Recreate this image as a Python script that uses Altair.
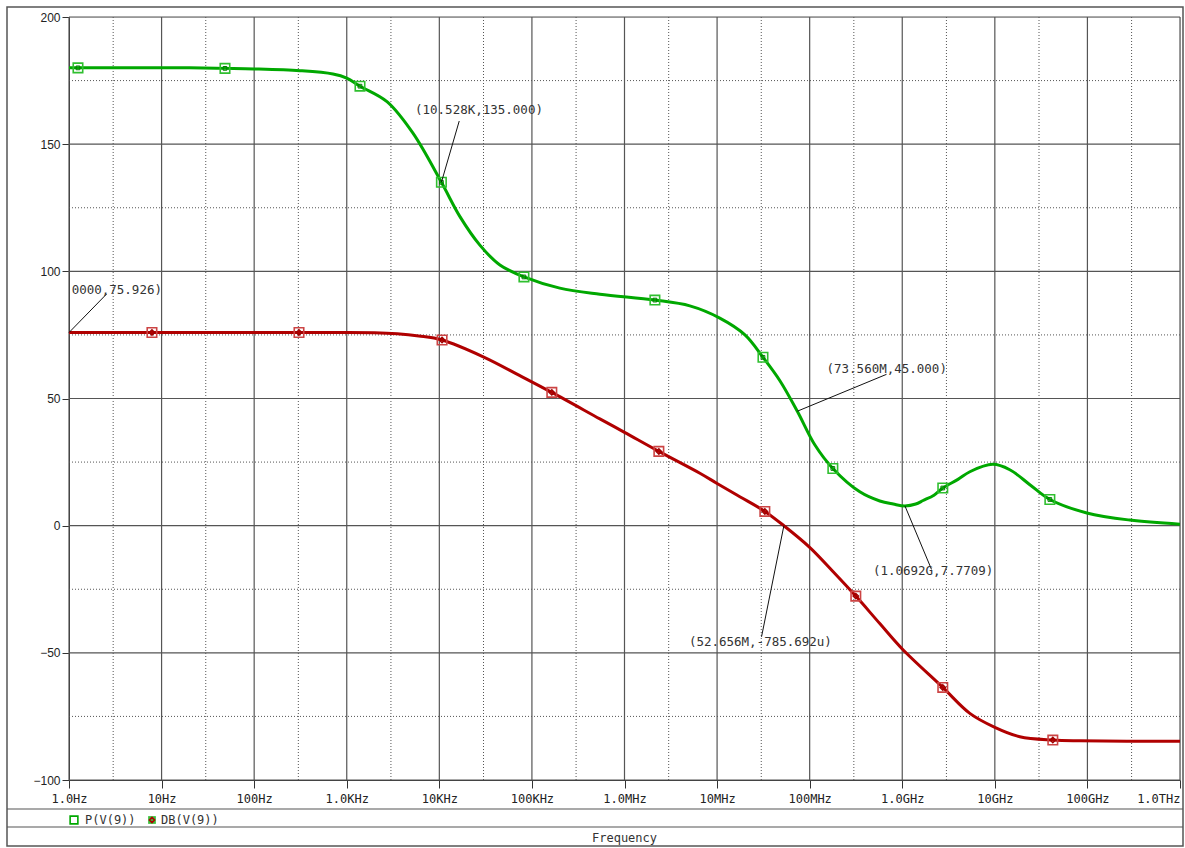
import altair as alt
import pandas as pd

# ---- phase of V(9), degrees ----
P_FREQ = [1, 1.25, 20, 48.4, 100, 312, 710, 1000, 1390, 2720, 5190, 10528,
          16700, 27400, 45100, 82000, 2.0e5, 5.42e5, 2.13e6, 5.08e6, 1.07e7,
          2.0e7, 3.13e7, 4.77e7, 7.356e7, 1.14e8, 1.78e8, 3.48e8, 5.72e8,
          8.0e8, 1.0692e9, 1.4e9, 1.68e9, 2.2e9, 2.74e9, 4.0e9, 5.37e9, 9.5e9,
          1.45e10, 2.39e10, 3.93e10, 9.86e10, 2.87e11, 1e12]
P_VAL = [180.0, 180.0, 180.0, 179.8, 179.6, 178.9, 177.6, 176.0, 172.8, 166.7,
         154.3, 135.0, 121.5, 110.3, 102.5, 97.8, 93.4, 91.0, 88.7, 86.4, 81.6,
         75.0, 66.2, 57.0, 45.0, 31.7, 22.5, 13.3, 9.7, 8.5, 7.7709, 8.5, 9.9,
         12.0, 14.8, 18.2, 21.2, 24.1, 22.0, 16.1, 10.3, 5.0, 2.2, 0.6]
P_MARK_IDX = [1, 3, 8, 11, 15, 18, 22, 26, 34, 40]

# ---- magnitude of V(9), dB ----
DB_FREQ = [1, 7.87, 305, 2000, 3500, 6000, 10700, 29800, 74100, 1.64e5,
           5.42e5, 1e6, 2.35e6, 6.52e6, 1e7, 1.76e7, 3.28e7, 5.2656e7, 1e8,
           1.87e8, 3.15e8, 5.72e8, 1e9, 2.74e9, 5.37e9, 1e10, 1.86e10, 4.23e10,
           8.28e10, 1e12]
DB_VAL = [75.926, 75.926, 75.926, 75.9, 75.5, 74.6, 73.0, 66.4, 59.0, 52.4,
          42.0, 36.7, 29.2, 20.6, 16.6, 11.4, 5.6, -0.000785692, -8.5, -18.8,
          -27.7, -38.5, -48.5, -63.6, -73.8, -79.3, -83.0, -84.3, -84.6, -84.8]
DB_MARK_IDX = [1, 2, 6, 9, 12, 16, 20, 23, 27]

# ---- axes ----
X_DECADES = [10.0 ** k for k in range(13)]
X_TICK_LABELS = ["1.0Hz", "10Hz", "100Hz", "1.0KHz", "10KHz", "100KHz",
                 "1.0MHz", "10MHz", "100MHz", "1.0GHz", "10GHz", "100GHz",
                 "1.0THz"]
X_MINOR = [3.0 * 10.0 ** k for k in range(12)]
Y_MAJOR = [-100, -50, 0, 50, 100, 150, 200]
Y_MINOR = [-75, -25, 25, 75, 125, 175]

# ---- cursor readouts: (x, y) on the trace, label anchor, leader end ----
CUR_TEXT = ["(10.528K,135.000)", "(1.0000,75.926)", "(73.560M,45.000)",
            "(1.0692G,7.7709)", "(52.656M,-785.692u)"]
CUR_X = [10528, 1.0, 7.356e7, 1.0692e9, 5.2656e7]
CUR_Y = [135.0, 75.926, 45.0, 7.7709, -0.000785692]
LBL_X = [26800, 10.1, 1.52e8, 4.82e8, 4.96e6]
LBL_Y = [163.4, 92.6, 61.6, -17.7, -45.8]
END_X = [16400, 2.55, 6.76e8, 2.07e9, 3.02e7]
END_Y = [159.1, 91.1, 59.5, -17.2, -43.7]
LBL_ALIGN = ["center", "right", "left", "left", "left"]

GREEN = "#00a800"
RED = "#b00000"
MONO = "DejaVu Sans Mono"

label_expr = ("[" + ",".join(f"'{s}'" for s in X_TICK_LABELS) +
              "][round(log(datum.value)/LN10)]")

x_scale = alt.Scale(type="log", domain=[1, 1e12], nice=False)
y_scale = alt.Scale(domain=[-100, 200], nice=False, zero=False)
x_axis = alt.Axis(values=X_DECADES, labelExpr=label_expr, title=None,
                  grid=False, tickSize=8, labelPadding=5, labelFont=MONO,
                  labelFontSize=12, labelColor="#222", tickColor="#333",
                  domainColor="#333",
                  labelAlign={"condition": {"test": "datum.value >= 1e12",
                                            "value": "right"},
                              "value": "center"})
y_axis = alt.Axis(values=Y_MAJOR, title=None, grid=False, tickSize=7,
                  labelPadding=2, labelFont="Liberation Sans",
                  labelFontSize=12, labelColor="#222", tickColor="#333",
                  domainColor="#333")


def X(field):
    return alt.X(f"{field}:Q", scale=x_scale, axis=x_axis)


def Y(field):
    return alt.Y(f"{field}:Q", scale=y_scale, axis=y_axis)


p_df = pd.DataFrame({"f": P_FREQ, "v": P_VAL})
db_df = pd.DataFrame({"f": DB_FREQ, "v": DB_VAL})
p_marks = p_df.iloc[P_MARK_IDX]
db_marks = db_df.iloc[DB_MARK_IDX]
cur_df = pd.DataFrame({"t": CUR_TEXT, "cx": CUR_X, "cy": CUR_Y, "lx": LBL_X,
                       "ly": LBL_Y, "ex": END_X, "ey": END_Y,
                       "al": LBL_ALIGN})
one = pd.DataFrame({"k": [0]})

# grid
grid_x_major = alt.Chart(pd.DataFrame({"f": X_DECADES})).mark_rule(
    color="#555", strokeWidth=1.2).encode(x=X("f"))
grid_x_minor = alt.Chart(pd.DataFrame({"f": X_MINOR})).mark_rule(
    color="#555", strokeWidth=1, strokeDash=[1, 2]).encode(x=X("f"))
grid_y_major = alt.Chart(pd.DataFrame({"v": Y_MAJOR})).mark_rule(
    color="#555", strokeWidth=1.2).encode(y=Y("v"))
grid_y_minor = alt.Chart(pd.DataFrame({"v": Y_MINOR})).mark_rule(
    color="#555", strokeWidth=1, strokeDash=[1, 2]).encode(y=Y("v"))

# traces
p_line = alt.Chart(p_df).mark_line(color=GREEN, strokeWidth=3,
                                    interpolate="catmull-rom",
                                    clip=True).encode(x=X("f"), y=Y("v"))
db_line = alt.Chart(db_df).mark_line(color=RED, strokeWidth=3,
                                      interpolate="catmull-rom",
                                      clip=True).encode(x=X("f"), y=Y("v"))

p_sq = alt.Chart(p_marks).mark_point(shape="square", size=90, filled=False,
                                     color="#2fbf2f", strokeWidth=1.6,
                                     opacity=1).encode(x=X("f"), y=Y("v"))
p_in = alt.Chart(p_marks).mark_point(shape="square", size=14, filled=False,
                                     color="#007a00", strokeWidth=1,
                                     opacity=1).encode(x=X("f"), y=Y("v"))
db_sq = alt.Chart(db_marks).mark_point(shape="square", size=90, filled=False,
                                       color="#cc4444", strokeWidth=1.6,
                                       opacity=1).encode(x=X("f"), y=Y("v"))
db_in = alt.Chart(db_marks).mark_point(shape="diamond", size=30, filled=False,
                                       color="#a00000", strokeWidth=1.4,
                                       opacity=1).encode(x=X("f"), y=Y("v"))

# cursor readouts
leaders = alt.Chart(cur_df).mark_rule(color="#111", strokeWidth=1).encode(
    x=X("cx"), y=Y("cy"), x2="ex:Q", y2="ey:Q")
labels = []
for al in ["center", "right", "left"]:
    labels.append(
        alt.Chart(cur_df).transform_filter(f"datum.al == '{al}'").mark_text(
            align=al, baseline="middle", font=MONO, fontSize=12.5,
            color="#333", clip=True).encode(x=X("lx"), y=Y("ly"), text="t:N"))

# outer frame, legend strip and x-axis caption
frame = alt.Chart(one).mark_rect(filled=False, stroke="#555",
                                 strokeWidth=1.5).encode(
    x=alt.value(-62), x2=alt.value(1114), y=alt.value(-10), y2=alt.value(829))
strip_top = alt.Chart(one).mark_rule(color="#555", strokeWidth=1.2).encode(
    x=alt.value(-62), x2=alt.value(1114), y=alt.value(792))
strip_bot = alt.Chart(one).mark_rule(color="#555", strokeWidth=1.2).encode(
    x=alt.value(-62), x2=alt.value(1114), y=alt.value(810))

leg_p = alt.Chart(one).mark_point(shape="square", size=60, filled=False,
                                  color=GREEN, strokeWidth=1.6,
                                  opacity=1).encode(x=alt.value(5),
                                                    y=alt.value(803))
leg_db = alt.Chart(one).mark_point(shape="square", size=60, filled=True,
                                   color="#3cc03c", opacity=1).encode(
    x=alt.value(83), y=alt.value(803))
leg_db_in = alt.Chart(one).mark_point(shape="diamond", size=26, filled=False,
                                      color=RED, strokeWidth=1.6,
                                      opacity=1).encode(x=alt.value(83),
                                                        y=alt.value(803))
leg_text = alt.Chart(pd.DataFrame({"t": ["P(V(9))", "DB(V(9))"],
                                   "px": [16, 92]})).mark_text(
    align="left", baseline="middle", font=MONO, fontSize=12,
    color="#333").encode(x=alt.X("px:Q", scale=None), y=alt.value(803),
                         text="t:N")
x_caption = alt.Chart(pd.DataFrame({"t": ["Frequency"]})).mark_text(
    align="center", baseline="middle", font=MONO, fontSize=12,
    color="#333").encode(x=alt.value(555.5), y=alt.value(821), text="t:N")

chart = alt.layer(
    grid_x_minor, grid_y_minor, grid_x_major, grid_y_major,
    p_line, db_line, p_sq, p_in, db_sq, db_in,
    leaders, *labels,
    frame, strip_top, strip_bot, leg_p, leg_db, leg_db_in, leg_text, x_caption,
).properties(
    width=1111, height=763,
    padding={"left": 69, "top": 17, "right": 5, "bottom": 68},
    autosize="none",
).configure_view(stroke="#333", strokeWidth=1).configure(background="white")

chart.save("out.html", embed_options={"renderer": "svg", "actions": False})
